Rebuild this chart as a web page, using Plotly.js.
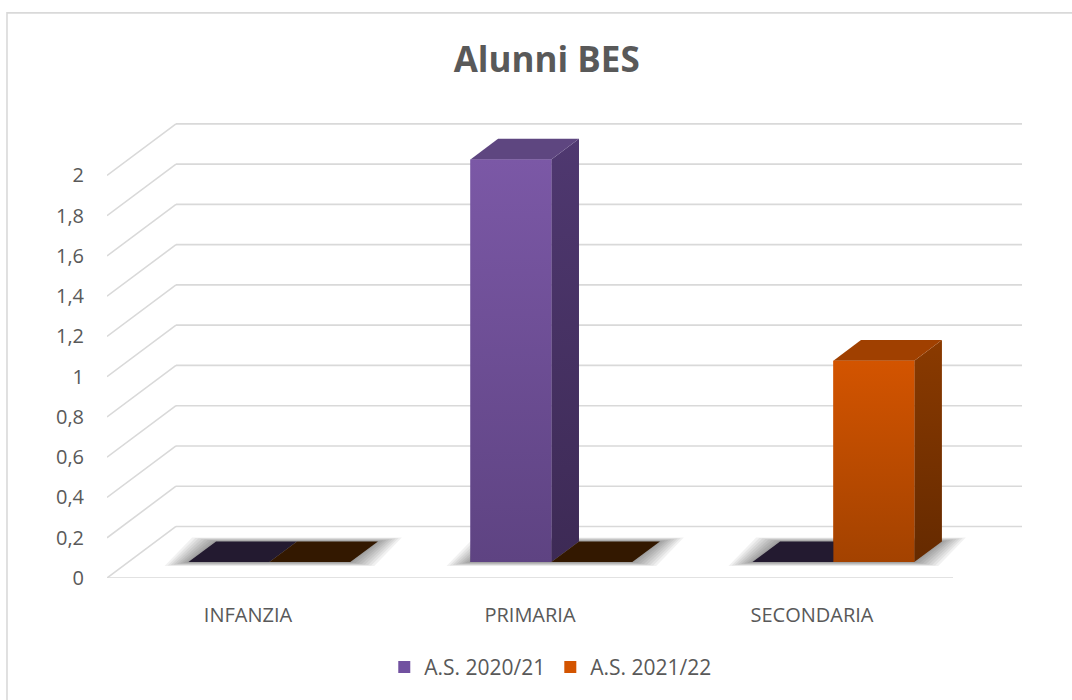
<!DOCTYPE html>
<html>
<head>
<meta charset="utf-8">
<script src="https://cdn.plot.ly/plotly-3.0.1.min.js"></script>
<style>html,body{margin:0;padding:0;background:#fff;}#chart{width:1072px;height:700px;}</style>
</head>
<body>
<div id="chart"></div>
<script>
// ---- data ----
const categories = ['INFANZIA', 'PRIMARIA', 'SECONDARIA'];
const seriesNames = ['A.S. 2020/21', 'A.S. 2021/22'];
const values2020 = [0, 2, 0];
const values2021 = [0, 0, 1];
const yTickVals = [0, 0.2, 0.4, 0.6, 0.8, 1, 1.2, 1.4, 1.6, 1.8, 2];
const yTickText = ['0', '0,2', '0,4', '0,6', '0,8', '1', '1,2', '1,4', '1,6', '1,8', '2'];

// ---- style / geometry ----
const DX = 0.2447, DY = 0.256;     // depth of the 3D box in axis units
const W = 0.287;                    // bar width (category units)
const F1 = 0.31, F2 = 0.71;         // bar depth band (fraction of box depth)
const styles = [
  {front: ['#5E4382', '#7B58A6'], side: ['#3D2A55', '#4F3870'], top: '#5E4680', zeroTop: '#231A30', legend: '#7151A0'},
  {front: ['#A34200', '#D35400'], side: ['#652A00', '#8A3A00'], top: '#A04000', zeroTop: '#331800', legend: '#D35400'}
];
const allSeries = [values2020, values2021];
const textColor = '#595959';
const gridColor = '#D9D9D9';

const traces = [];
// bar traces (front faces; also give the legend)
allSeries.forEach((vals, i) => {
  traces.push({
    type: 'bar',
    name: seriesNames[i],
    x: categories.map((c, k) => k + (i - 1) * W + F1 * DX + W / 2),
    y: vals,
    base: vals.map(() => F1 * DY),
    width: W,
    marker: {color: styles[i].legend, line: {width: 0}},
    hoverinfo: 'y+name',
    showlegend: true
  });
});

function poly(xs, ys, extra) {
  return Object.assign({
    type: 'scatter', mode: 'none', fill: 'toself',
    x: xs.concat([xs[0]]), y: ys.concat([ys[0]]),
    hoverinfo: 'skip', showlegend: false
  }, extra);
}

// soft shadows under each category footprint
categories.forEach((c, k) => {
  const x0 = k - W + F1 * DX, x1 = k + W + F2 * DX;
  const yb0 = F1 * DY, yb1 = F2 * DY;
  const ddx = (F2 - F1) * DX;
  for (let s = 0; s < 8; s++) {
    const e = 0.085 - s * 0.011;
    const ey = 0.02 - s * 0.0025;
    traces.push(poly(
      [x0 - e, x1 - ddx + e, x1 + e, x0 + ddx - e],
      [yb0 - ey, yb0 - ey, yb1 + ey, yb1 + ey],
      {fillcolor: 'rgba(0,0,0,0.055)'}
    ));
  }
});

// 3D faces of every bar
categories.forEach((c, k) => {
  allSeries.forEach((vals, i) => {
    const v = vals[k];
    const st = styles[i];
    const x0 = k + (i - 1) * W + F1 * DX, x1 = x0 + W;
    const yb = F1 * DY, yt = v + F1 * DY;
    const ddx = (F2 - F1) * DX, ddy = (F2 - F1) * DY;
    if (v > 0) {
      // side face
      traces.push(poly([x1, x1 + ddx, x1 + ddx, x1], [yb, yb + ddy, yt + ddy, yt],
        {fillgradient: {type: 'vertical', colorscale: [[0, st.side[0]], [1, st.side[1]]]}, fillcolor: st.side[1]}));
      // top face
      traces.push(poly([x0, x1, x1 + ddx, x0 + ddx], [yt, yt, yt + ddy, yt + ddy], {fillcolor: st.top}));
      // front face gradient
      traces.push(poly([x0, x1, x1, x0], [yb, yb, yt, yt],
        {fillgradient: {type: 'vertical', colorscale: [[0, st.front[0]], [1, st.front[1]]]}, fillcolor: st.front[1]}));
    } else {
      traces.push(poly([x0, x1, x1 + ddx, x0 + ddx], [yt, yt, yt + ddy, yt + ddy], {fillcolor: st.zeroTop}));
    }
  });
});

// walls / gridlines
const shapes = [];
const xL = -0.5, xR = categories.length - 0.5;
yTickVals.forEach(v => {
  shapes.push({type: 'line', xref: 'x', yref: 'y', x0: xL + DX, x1: xR + DX, y0: v + DY, y1: v + DY, line: {color: gridColor, width: 1.6}, layer: 'below'});
  shapes.push({type: 'line', xref: 'x', yref: 'y', x0: xL, x1: xL + DX, y0: v, y1: v + DY, line: {color: gridColor, width: 1.6}, layer: 'below'});
});
shapes.push({type: 'line', xref: 'x', yref: 'y', x0: xL, x1: xR, y0: 0, y1: 0, line: {color: gridColor, width: 1.6}, layer: 'below'});
// chart border
shapes.push({type: 'rect', xref: 'paper', yref: 'paper', x0: -0.1093, x1: 1.25, y0: -0.4, y1: 1.2206, line: {color: gridColor, width: 1.6}, fillcolor: 'rgba(0,0,0,0)', layer: 'below'});

const font = 'Open Sans, Liberation Sans, sans-serif';
const layout = {
  width: 1072, height: 700,
  margin: {l: 107, r: 50, t: 115, b: 118},
  paper_bgcolor: '#ffffff', plot_bgcolor: 'rgba(0,0,0,0)',
  barmode: 'overlay',
  font: {family: font, color: textColor, size: 20},
  title: {text: 'Alunni BES', font: {family: font, size: 35, weight: 'bold', color: textColor},
          x: 0.51, xref: 'container', xanchor: 'center', y: 1 - 60 / 700, yref: 'container', yanchor: 'middle'},
  xaxis: {range: [xL, xR + DX], tickvals: categories.map((c, k) => k), ticktext: categories,
          showgrid: false, zeroline: false, showline: false, ticks: 'outside', ticklen: 19, tickcolor: 'rgba(0,0,0,0)',
          tickfont: {size: 20, color: textColor, family: font}, fixedrange: true},
  yaxis: {range: [0, 2.3], tickvals: yTickVals, ticktext: yTickText,
          showgrid: false, zeroline: false, showline: false, ticks: 'outside', ticklen: 18, tickcolor: 'rgba(0,0,0,0)',
          tickfont: {size: 20, color: textColor, family: font}, fixedrange: true},
  legend: {orientation: 'h', x: 0.485, xanchor: 'center', y: -0.193, yanchor: 'middle',
           font: {size: 21, color: textColor, family: font}, traceorder: 'normal', itemwidth: 30},
  shapes: shapes,
  showlegend: true
};

Plotly.newPlot('chart', traces, layout, {displayModeBar: false, staticPlot: true});
</script>
</body>
</html>
